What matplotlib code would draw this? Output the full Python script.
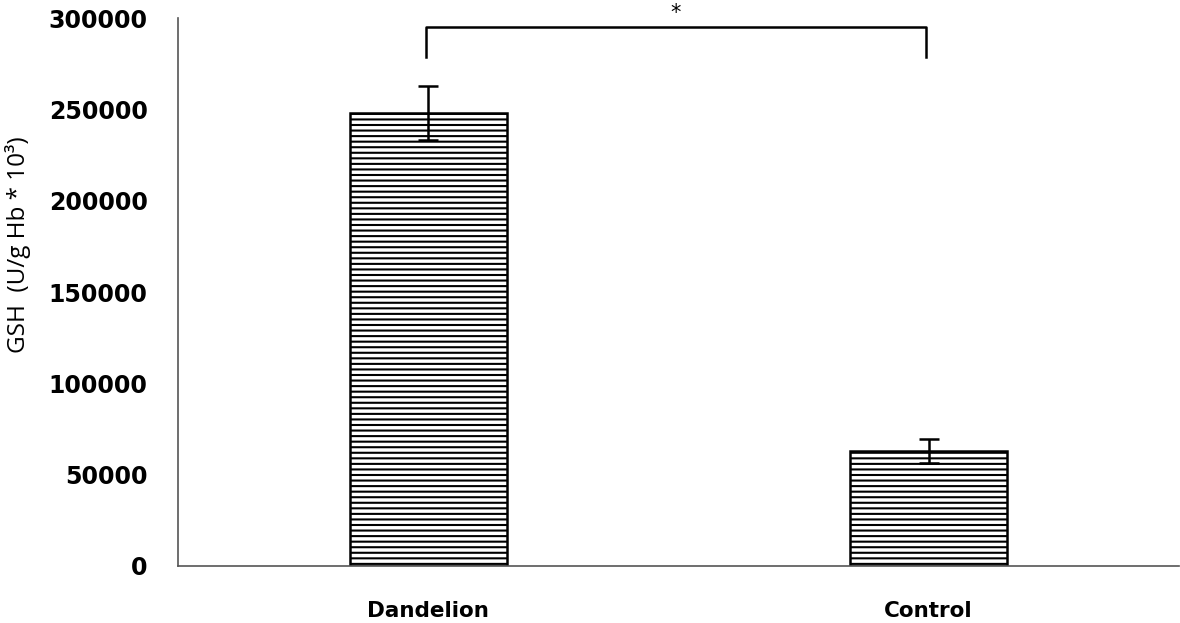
import matplotlib
matplotlib.use("Agg")
from matplotlib import pyplot as plt

# valores
groups = ["Dandelion", "Control"]
gsh = [248000, 63000]
err = [15000, 6500]
yticks = [0, 50000, 100000, 150000, 200000, 250000, 300000]

plt.rcParams["font.family"] = ["DejaVu Sans"]
plt.rcParams["hatch.linewidth"] = 1.5

fig = plt.figure(figsize=(11.8, 6.23), dpi=100)
ax = fig.add_axes([0.151, 0.0915, 0.848, 0.8795])

x = range(len(groups))
ax.bar(x, gsh, width=0.313, color="white", edgecolor="black", linewidth=1.8, hatch="---")
ax.errorbar(x, gsh, yerr=err, fmt="none", ecolor="black", elinewidth=1.8, capsize=7, capthick=1.8)

ax.set_xlim(-0.5, 1.5)
ax.set_ylim(0, 300000)
ax.set_yticks(yticks)
ax.set_yticklabels([str(v) for v in yticks], fontsize=17, fontweight="bold")
ax.set_xticks(list(x))
ax.set_xticklabels(groups, fontsize=15.5, fontweight="bold")
ax.tick_params(axis="y", length=0, pad=22)
ax.tick_params(axis="x", length=0, pad=25)
ax.set_ylabel("GSH  (U/g Hb * 10³)", fontsize=17.5, fontfamily="Open Sans")
ax.yaxis.set_label_coords(-0.147, 0.586)

for s in ["top", "right"]:
    ax.spines[s].set_visible(False)
ax.spines["left"].set_color("#555555")
ax.spines["bottom"].set_color("#555555")
ax.spines["left"].set_linewidth(1.2)
ax.spines["bottom"].set_linewidth(1.2)

# corchete de significancia
yb, yt = 278500, 295000
ax.plot([-0.005, -0.005, 0.995, 0.995], [yb, yt, yt, yb], color="black", lw=1.8, clip_on=False)
ax.text(0.495, yt + 2500, "*", ha="center", va="bottom", fontsize=15)

fig.savefig("out.png", dpi=100)
